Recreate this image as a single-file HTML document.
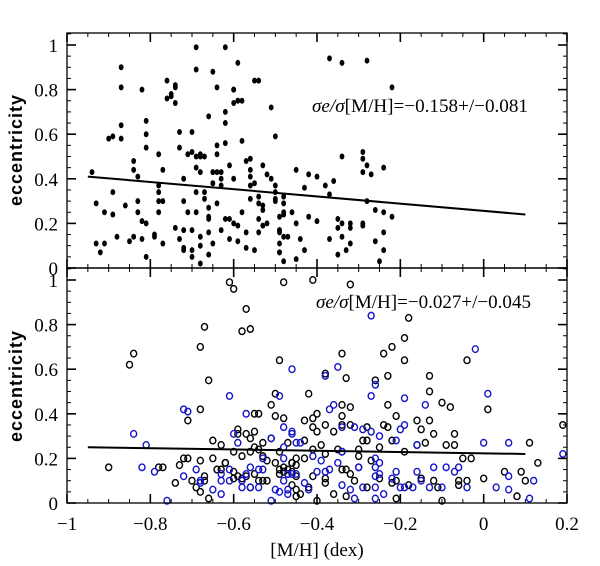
<!DOCTYPE html>
<html><head><meta charset="utf-8"><style>
html,body{margin:0;padding:0;background:#fff;}
svg{display:block;}
text{font-family:"Liberation Serif",serif;fill:#000;}
</style></head><body>
<svg id="chart" width="600" height="566" viewBox="0 0 600 566">
<g id="top-panel"></g>
<g id="bottom-panel"></g>
<g id="axes"></g>
<text x="22" y="150" transform="rotate(-90 22 150)" text-anchor="middle" font-size="18" font-weight="bold" style="font-family:'Liberation Sans',sans-serif;letter-spacing:1px">eccentricity</text>
<text x="22" y="386" transform="rotate(-90 22 386)" text-anchor="middle" font-size="18" font-weight="bold" style="font-family:'Liberation Sans',sans-serif;letter-spacing:1px">eccentricity</text>
<text x="317" y="556" text-anchor="middle" font-size="19">[M/H] (dex)</text>
<text x="312" y="112" font-size="19" textLength="216" lengthAdjust="spacingAndGlyphs"><tspan font-style="italic">σe/σ</tspan>[M/H]=−0.158+/−0.081</text>
<text x="316" y="308" font-size="19" textLength="215" lengthAdjust="spacingAndGlyphs"><tspan font-style="italic">σe/σ</tspan>[M/H]=−0.027+/−0.045</text>
</svg>
<script>
const xTicks=[-1,-0.8,-0.6,-0.4,-0.2,0,0.2];
const xTickLabels=["−1","−0.8","−0.6","−0.4","−0.2","0","0.2"];
const yTicks=[0,0.2,0.4,0.6,0.8,1];
const yTickLabels=["0","0.2","0.4","0.6","0.8","1"];
const topFitX=[-0.95,0.1];
const topFitY=[0.41,0.24];
const botFitX=[-0.95,0.1];
const botFitY=[0.25,0.22];
const topX=[-0.94,-0.93,-0.93,-0.92,-0.91,-0.91,-0.90,-0.89,-0.89,-0.89,-0.88,-0.87,-0.87,-0.87,-0.87,-0.86,-0.85,-0.84,-0.84,-0.84,-0.83,-0.83,-0.83,-0.82,-0.82,-0.82,-0.81,-0.81,-0.81,-0.81,-0.81,-0.79,-0.79,-0.78,-0.78,-0.78,-0.78,-0.78,-0.77,-0.77,-0.76,-0.77,-0.76,-0.75,-0.75,-0.74,-0.74,-0.74,-0.74,-0.73,-0.73,-0.73,-0.72,-0.72,-0.72,-0.72,-0.72,-0.71,-0.71,-0.70,-0.70,-0.70,-0.70,-0.70,-0.69,-0.69,-0.69,-0.69,-0.69,-0.69,-0.68,-0.68,-0.68,-0.68,-0.68,-0.68,-0.67,-0.67,-0.67,-0.66,-0.66,-0.66,-0.66,-0.66,-0.65,-0.66,-0.65,-0.65,-0.65,-0.64,-0.64,-0.64,-0.64,-0.64,-0.63,-0.63,-0.63,-0.63,-0.62,-0.62,-0.62,-0.62,-0.62,-0.61,-0.61,-0.61,-0.60,-0.60,-0.60,-0.60,-0.60,-0.59,-0.59,-0.59,-0.59,-0.58,-0.58,-0.58,-0.57,-0.57,-0.57,-0.56,-0.56,-0.56,-0.56,-0.56,-0.55,-0.55,-0.55,-0.54,-0.54,-0.54,-0.54,-0.54,-0.53,-0.53,-0.53,-0.53,-0.52,-0.52,-0.51,-0.51,-0.50,-0.50,-0.50,-0.50,-0.50,-0.49,-0.49,-0.49,-0.49,-0.49,-0.49,-0.48,-0.48,-0.48,-0.48,-0.47,-0.46,-0.45,-0.45,-0.45,
-0.37,-0.34,-0.28,-0.22,-0.34,-0.29,-0.29,-0.28,-0.29,-0.27,-0.24,-0.42,-0.40,-0.38,-0.36,-0.43,-0.37,-0.28,-0.26,-0.24,-0.22,-0.42,-0.40,-0.35,-0.34,-0.35,-0.32,-0.32,-0.29,-0.29,-0.44,-0.37,-0.34,-0.32,-0.33,-0.26,-0.24,-0.43,-0.35,-0.24,-0.25,-0.48,-0.48,-0.49,-0.48];
const topY=[0.43,0.11,0.29,0.07,0.11,0.25,0.58,0.59,0.34,0.24,0.14,0.90,0.58,0.81,0.64,0.28,0.12,0.44,0.48,0.14,0.41,0.25,0.30,0.13,0.80,0.21,0.20,0.60,0.54,0.66,0.05,0.15,0.14,0.30,0.34,0.25,0.37,0.51,0.11,0.44,0.76,0.30,0.84,0.77,0.78,0.74,0.81,0.82,0.18,0.13,0.61,0.54,0.17,0.09,0.08,0.40,0.30,0.25,0.51,0.52,0.08,0.61,0.05,0.17,0.99,0.89,0.45,0.25,0.50,0.34,0.43,0.02,0.10,0.14,0.51,0.50,0.50,0.34,0.31,0.22,0.27,0.23,0.68,0.16,0.88,0.06,0.38,0.11,0.43,0.51,0.81,0.29,0.55,0.43,0.40,0.17,0.43,0.37,0.56,0.65,0.99,0.70,0.22,0.13,0.46,0.22,0.74,0.80,0.20,0.80,0.40,0.12,0.92,0.19,0.75,0.75,0.57,0.25,0.09,0.48,0.16,0.44,0.31,0.41,0.49,0.37,0.38,0.08,0.84,0.84,0.16,0.32,0.29,0.22,0.46,0.28,0.19,0.26,0.42,0.20,0.72,0.40,0.37,0.59,0.34,0.30,0.31,0.17,0.11,0.17,0.07,0.07,0.16,0.24,0.25,0.03,0.24,0.14,0.25,0.44,0.20,0.04,
0.94,0.92,0.93,0.81,0.50,0.52,0.49,0.46,0.43,0.42,0.45,0.42,0.41,0.37,0.39,0.36,0.33,0.30,0.26,0.25,0.23,0.23,0.21,0.22,0.20,0.18,0.20,0.18,0.19,0.20,0.13,0.13,0.14,0.11,0.08,0.12,0.16,0.08,0.06,0.08,0.03,0.32,0.29,0.23,0.14];
const blackX=[-0.90,-0.85,-0.84,-0.78,-0.77,-0.74,-0.73,-0.72,-0.71,-0.71,-0.70,-0.69,-0.68,-0.68,-0.68,-0.67,-0.68,-0.67,-0.67,-0.66,-0.66,-0.65,-0.65,-0.64,-0.63,-0.63,-0.62,-0.62,-0.61,-0.60,-0.60,-0.60,-0.60,-0.59,-0.59,-0.59,-0.58,-0.58,-0.58,-0.57,-0.57,-0.57,-0.56,-0.56,-0.56,-0.56,-0.55,-0.55,-0.55,-0.55,-0.54,-0.54,-0.54,-0.53,-0.53,-0.53,-0.52,-0.52,-0.51,-0.51,-0.50,-0.50,-0.50,-0.49,-0.49,-0.49,-0.49,-0.48,-0.48,-0.48,-0.47,-0.47,-0.47,-0.46,-0.45,-0.45,-0.45,-0.45,-0.46,
-0.41,-0.32,-0.18,-0.19,-0.22,-0.24,-0.19,-0.04,-0.34,-0.33,-0.38,-0.26,-0.23,-0.13,-0.13,-0.42,-0.32,-0.34,-0.23,-0.10,-0.08,0.01,-0.40,-0.41,-0.43,-0.41,-0.40,-0.38,-0.34,-0.34,-0.36,-0.32,-0.28,-0.24,-0.23,-0.21,-0.16,-0.15,-0.13,-0.12,-0.07,-0.43,-0.39,-0.41,-0.38,-0.35,-0.34,-0.29,-0.28,-0.30,-0.25,-0.22,-0.19,-0.16,-0.14,-0.09,-0.07,-0.05,-0.03,0.11,0.19,0.13,0.05,0.09,0.10,0.00,0.08,-0.06,-0.10,-0.21,-0.33,-0.36,-0.46,-0.45,-0.43,-0.48,-0.33,-0.32,-0.31,-0.28,-0.25,-0.22,-0.21,-0.18,-0.15,-0.12,-0.11,-0.06,-0.04,-0.41,-0.38,-0.44,-0.42,-0.40,-0.38,-0.34,-0.46,-0.30,-0.27];
const blackY=[0.16,0.62,0.67,0.16,0.16,0.09,0.17,0.20,0.20,0.37,0.10,0.07,0.19,0.42,0.70,0.79,0.05,0.12,0.10,0.02,0.55,0.20,0.28,0.15,0.15,0.26,0.18,0.18,0.99,0.23,0.96,0.14,0.11,0.33,0.31,0.12,0.11,0.77,0.21,0.12,0.87,0.31,0.29,0.07,0.23,0.78,0.13,0.32,0.25,0.40,0.10,0.40,0.24,0.27,0.21,0.10,0.19,0.10,0.44,0.29,0.18,0.39,0.49,0.64,0.13,0.23,0.15,0.38,0.16,0.99,0.13,0.15,0.27,0.18,0.06,0.12,0.03,0.20,0.14,
1.00,0.98,0.83,0.74,0.70,0.67,0.64,0.64,0.67,0.56,0.58,0.55,0.57,0.57,0.50,0.49,0.43,0.44,0.44,0.45,0.43,0.42,0.40,0.38,0.37,0.34,0.32,0.35,0.39,0.35,0.32,0.35,0.34,0.35,0.34,0.39,0.37,0.33,0.37,0.31,0.31,0.28,0.26,0.24,0.22,0.24,0.23,0.28,0.28,0.24,0.25,0.28,0.23,0.26,0.27,0.26,0.26,0.20,0.20,0.27,0.35,0.18,0.14,0.14,0.10,0.11,0.03,0.08,0.01,0.02,0.03,0.04,0.18,0.17,0.20,0.14,0.15,0.13,0.10,0.07,0.11,0.09,0.10,0.08,0.11,0.10,0.07,0.10,0.10,0.12,0.09,0.04,0.07,0.01,0.11,0.15,0.08,0.21,0.19];
const blueX=[-0.84,-0.81,-0.82,-0.79,-0.76,-0.72,-0.71,-0.72,-0.69,-0.68,-0.68,-0.65,-0.63,-0.63,-0.63,-0.61,-0.61,-0.61,-0.60,-0.59,-0.58,-0.57,-0.58,-0.57,-0.56,-0.56,-0.54,-0.54,-0.53,-0.53,-0.51,-0.51,-0.50,-0.49,-0.49,-0.48,-0.48,-0.48,-0.47,-0.47,-0.46,-0.46,-0.46,-0.45,
-0.27,-0.02,-0.35,-0.38,-0.26,-0.27,-0.19,-0.14,0.01,-0.36,-0.37,-0.48,-0.46,-0.44,-0.34,-0.31,-0.29,-0.25,-0.27,-0.21,-0.19,-0.20,-0.16,0.00,0.06,0.19,-0.41,-0.39,-0.34,-0.35,-0.30,-0.26,-0.26,-0.25,-0.25,-0.26,-0.21,-0.22,-0.16,-0.12,-0.09,-0.07,-0.06,-0.45,-0.40,-0.38,-0.37,-0.43,-0.42,-0.34,-0.32,-0.30,-0.29,-0.26,-0.24,-0.20,-0.19,-0.17,-0.15,-0.13,-0.10,-0.04,0.03,0.06,0.06,0.11,0.12,-0.31,-0.47,-0.26];
const blueY=[0.31,0.26,0.16,0.14,0.01,0.42,0.41,0.12,0.15,0.10,0.09,0.06,0.10,0.04,0.13,0.48,0.10,0.15,0.31,0.27,0.10,0.40,0.07,0.13,0.07,0.16,0.07,0.15,0.20,0.15,0.01,0.29,0.06,0.48,0.05,0.20,0.25,0.10,0.04,0.13,0.32,0.60,0.13,0.27,
0.84,0.69,0.61,0.57,0.53,0.48,0.47,0.44,0.49,0.44,0.42,0.34,0.31,0.27,0.34,0.34,0.33,0.30,0.32,0.28,0.35,0.33,0.26,0.27,0.27,0.22,0.21,0.19,0.23,0.18,0.16,0.20,0.16,0.18,0.13,0.12,0.14,0.11,0.14,0.16,0.16,0.14,0.16,0.13,0.14,0.14,0.15,0.09,0.06,0.08,0.06,0.16,0.07,0.07,0.04,0.07,0.07,0.07,0.10,0.07,0.07,0.07,0.07,0.12,0.06,0.02,0.10,0.02,0.06,0.02];

const NS="http://www.w3.org/2000/svg";
const X0=67,X1=567,TOP0=33,MID=268,BOT=503;
function xs(v){return X0+(v+1)*(X1-X0)/1.2;}
function yTop(v){return MID-v*223;}
function yBot(v){return BOT-v*223;}
function mk(tag,attrs,parent){const e=document.createElementNS(NS,tag);for(const k in attrs)e.setAttribute(k,attrs[k]);parent.appendChild(e);return e;}
const axes=document.getElementById('axes');
const topG=document.getElementById('top-panel');
const botG=document.getElementById('bottom-panel');

let f1=mk('rect',{x:X0,y:TOP0,width:X1-X0,height:MID-TOP0,fill:'none',stroke:'#000','stroke-width':1.3},axes);


let f2=mk('rect',{x:X0,y:MID,width:X1-X0,height:BOT-MID,fill:'none',stroke:'#000','stroke-width':1.3},axes);



for(let i=0;i<=24;i++){
  const v=-1+i*0.05;const px=xs(v);const major=(i%4===0);const L=major?9:4;
  [TOP0,MID,BOT].forEach(function(yy){
    if(yy!==TOP0){const t=mk('line',{x1:px,x2:px,y1:yy,y2:yy-L,stroke:'#000','stroke-width':major?1.6:1},axes);
      
      }
    if(yy!==BOT){const t2=mk('line',{x1:px,x2:px,y1:yy,y2:yy+L,stroke:'#000','stroke-width':major?1.6:1},axes);
      
      }
  });
}
xTicks.forEach(function(v,i){
  const t=mk('text',{x:xs(v),y:BOT+27,'text-anchor':'middle','font-size':19},axes);
  t.textContent=xTickLabels[i];
  
  
});
function yAxis(fy,maxv){
  for(let i=0;i*0.05<=maxv+1e-9;i++){
    const v=i*0.05;const py=fy(v);const major=(i%4===0);const L=major?9:4;
    const a=mk('line',{x1:X0,x2:X0+L,y1:py,y2:py,stroke:'#000','stroke-width':major?1.6:1},axes);
    
    
    const b=mk('line',{x1:X1,x2:X1-L,y1:py,y2:py,stroke:'#000','stroke-width':major?1.6:1},axes);
    
    
  }
  yTicks.forEach(function(v,i){
    const t=mk('text',{x:X0-9,y:fy(v)+7,'text-anchor':'end','font-size':19},axes);
    t.textContent=yTickLabels[i];
    
    
  });
}
yAxis(yTop,1.05);
yAxis(yBot,1.05);

for(let i=0;i<topX.length;i++){
  const c=mk('ellipse',{cx:xs(topX[i]),cy:yTop(topY[i]),rx:2.4,ry:3,fill:'#000'},topG);
  
  
}
const l1=mk('line',{x1:xs(topFitX[0]),y1:yTop(topFitY[0]),x2:xs(topFitX[1]),y2:yTop(topFitY[1]),stroke:'#000','stroke-width':2},topG);



for(let i=0;i<blackX.length;i++){
  const c=mk('ellipse',{cx:xs(blackX[i]),cy:yBot(blackY[i]),rx:3,ry:3.3,fill:'none',stroke:'#000','stroke-width':1.4},botG);
  
  
}
for(let i=0;i<blueX.length;i++){
  const c=mk('ellipse',{cx:xs(blueX[i]),cy:yBot(blueY[i]),rx:3,ry:3.3,fill:'none',stroke:'#1515c8','stroke-width':1.4},botG);
  
  
}
const l2=mk('line',{x1:xs(botFitX[0]),y1:yBot(botFitY[0]),x2:xs(botFitX[1]),y2:yBot(botFitY[1]),stroke:'#000','stroke-width':2},botG);


</script>
</body></html>
